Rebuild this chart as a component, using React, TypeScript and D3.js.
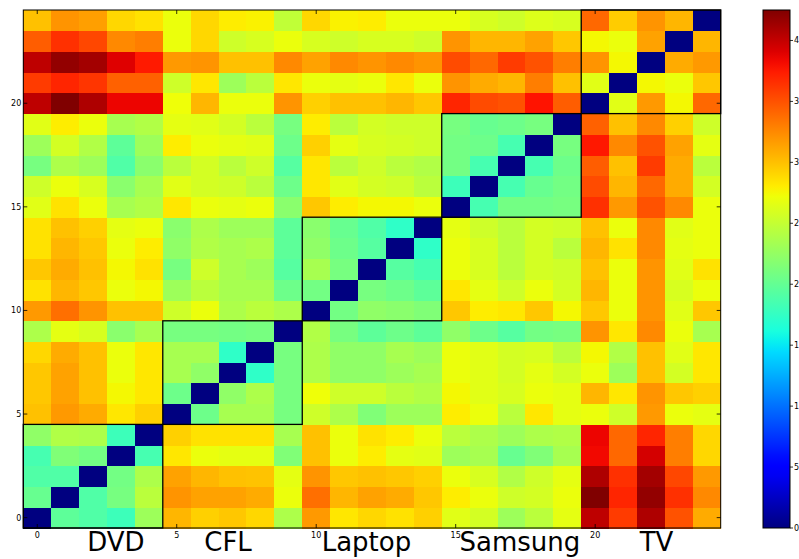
import React from 'react';
import * as d3 from 'd3';

// block names along both axes, 5 items each
const groups = ['DVD', 'CFL', 'Laptop', 'Samsung', 'TV'];
// where the big group labels sit (in cell units)
const groupLabelPos = [2.82, 6.84, 11.8, 17.3, 22.2];
const ticks = [0, 5, 10, 15, 20];
const cbarTicks = [0, 5, 10, 15, 20, 25, 30, 35, 40];
const vmax = 42.5;

// distance matrix, row 0 = bottom row of the image
const rows: number[][] = [
  [0, 19.7, 19, 18, 23, 30.5, 29.3, 29.7, 29, 23.8, 31.8, 28.3, 29, 28.5, 29.3, 26.5, 25.8, 23, 24.5, 26.7, 40.2, 36, 40.8, 35, 31],
  [20.2, 0, 19, 21, 24.5, 32, 31.4, 31.4, 31, 27, 33.7, 30.5, 31.4, 31, 29.7, 28, 27, 25.5, 25.8, 27, 42.5, 37, 41.8, 36.5, 32.5],
  [19, 19, 0, 20.8, 23.8, 31.4, 30.5, 30, 29.9, 26.7, 32, 29.7, 30, 29.7, 29.3, 27, 26, 24, 25.5, 26.7, 40.8, 36.5, 41.2, 35.5, 31.8],
  [18.5, 21.5, 20.8, 0, 18.5, 28.3, 27, 26.7, 26.7, 21.5, 30, 27, 28, 26.7, 26.5, 23, 23.5, 20.2, 21.5, 23.5, 38.3, 34, 39.4, 33, 29],
  [22.3, 24, 23.8, 18, 0, 29.3, 28.5, 28.5, 28.5, 23.5, 30, 27, 28.5, 28, 27, 24.5, 23.8, 23, 23.8, 24, 38.5, 34, 37, 33, 29],
  [30, 31.8, 31, 28.3, 29.3, 0, 20.5, 23.5, 23.5, 21, 25.5, 23.8, 21.5, 23, 23, 28, 27, 24.5, 28.3, 26.7, 27, 25.5, 31.8, 27, 26.7],
  [29.7, 31.4, 30, 27.5, 28.3, 20.5, 0, 22.3, 23.8, 21, 27.2, 25.5, 25.5, 24.5, 24, 27.5, 26.5, 26, 27, 26.7, 30.5, 28.3, 32, 29.7, 29.3],
  [29.7, 31.4, 30, 27, 28.3, 23.5, 22.3, 0, 17.3, 21, 23.8, 22.3, 22.3, 23, 23.5, 27, 26.5, 25.8, 26.7, 25.8, 27, 23, 30, 25.8, 28.3],
  [29, 31, 30, 27, 28.3, 23.5, 23.5, 17.3, 0, 21, 23.8, 22.3, 22.3, 23.5, 23, 27, 26.5, 25.8, 26, 24.5, 27.5, 24, 30, 26.5, 28.3],
  [23.8, 26.7, 26, 22, 23.5, 21, 21, 20.8, 21, 0, 24, 21, 19.7, 20.5, 19.7, 22.3, 20.5, 19.3, 20.8, 21, 32, 28.3, 32.5, 27, 23.5],
  [31.8, 33.7, 32, 30, 30, 25.5, 27, 23.8, 24.5, 23.8, 0, 20.8, 22.3, 22, 21.5, 29.7, 28, 28.3, 29.7, 27.5, 29.7, 27, 32, 26.5, 29.7],
  [28.5, 30.5, 29.7, 27, 27.5, 23, 24.5, 23.5, 23.5, 20.5, 20.8, 0, 21, 20.5, 19.7, 28.3, 26.7, 25.5, 27, 25.8, 30.5, 27, 32, 26, 27],
  [29.7, 31, 30, 27.5, 28.5, 21, 25.5, 23.5, 23, 19.3, 23.5, 21, 0, 19.3, 18.5, 27, 26, 24.5, 25.8, 25.5, 30, 27, 32, 26.5, 28.5],
  [28.5, 30.5, 29.7, 27, 28, 22.3, 24, 23.5, 23.8, 19.7, 22.3, 20.5, 19.3, 0, 17.3, 27, 26, 24.5, 25.8, 24.5, 30.5, 28.5, 32.5, 26.7, 27],
  [28.5, 30, 29.3, 26.7, 27, 22, 23.8, 23, 23, 19.7, 22, 20.2, 19, 17.3, 0, 26.7, 25.5, 24.5, 25.8, 25.5, 30, 27, 32.5, 26.5, 27],
  [26.5, 28.5, 27, 23.5, 24, 28.3, 27, 26.7, 27, 22, 29.7, 28, 27.5, 27.5, 27, 0, 18.5, 20.8, 20.8, 21, 36.5, 31.8, 35, 32.5, 27],
  [25.5, 27, 26, 22, 23.5, 26.5, 25.8, 25.5, 24.5, 20.5, 28.3, 26.5, 25.8, 25.5, 24.5, 18, 0, 18.5, 20.2, 20.8, 35.3, 30.5, 34, 31, 25.8],
  [21, 23.8, 23, 19, 22, 24.5, 25.8, 24.5, 25.5, 19.3, 28.3, 24.5, 25.5, 24.5, 24, 20.8, 18.5, 0, 18.5, 20.5, 34.5, 30, 36, 31, 24.5],
  [23, 25.8, 24, 19.7, 23, 28, 27, 26.7, 26.5, 20.5, 29.3, 26.7, 26, 25.8, 25.5, 20.8, 20.5, 18.5, 0, 21, 37.6, 32.5, 35, 31.4, 26.7],
  [26.5, 28, 27, 23.5, 24, 26.7, 26.5, 25.8, 24.5, 21, 28, 24.5, 25.8, 25.5, 25.5, 21, 20.2, 20.5, 21, 0, 34.3, 30, 32.5, 29.3, 25.5],
  [40.2, 42.5, 40.8, 38.5, 38.5, 27.2, 30.5, 27, 27, 32, 29.3, 30, 30, 30.5, 29.7, 37, 35.3, 35, 37.8, 34.5, 0, 26.5, 31.8, 27.5, 34],
  [36, 37, 36.3, 34.3, 34.3, 25.5, 28.3, 23, 24.5, 28.3, 27, 26.7, 27, 28.3, 27, 32, 31, 30.5, 33, 30, 26.5, 0, 27.5, 27, 29.7],
  [40.2, 41.8, 41.2, 39, 37.5, 31.8, 32, 30, 30, 32.5, 31.4, 32.5, 32, 32.5, 32, 35.3, 34, 36, 35, 33, 32, 27.5, 0, 31, 31.8],
  [34.5, 36.5, 35.5, 32.5, 33, 27, 29, 25.5, 26, 27, 26, 25.5, 26, 26, 25.5, 32, 30.5, 30.5, 31.4, 29.7, 27.5, 27, 31.4, 0, 30.5],
  [30, 32, 31.5, 29, 28.5, 27, 29, 28, 27.8, 24.8, 29, 27.8, 28, 27, 27, 27, 26, 25.5, 26.3, 26, 34, 29.5, 32, 30.5, 0],
];

const n = rows.length;
const width = 799;
const height = 559;
const plot = { left: 23.3, right: 720.7, top: 10, bottom: 528 };
const cbar = { left: 763, right: 790 };
const font = 'DejaVu Sans, sans-serif';

// matplotlib's jet, channel by channel
const chan = (pts: number[][]) =>
  d3.scaleLinear().domain(pts.map((p) => p[0])).range(pts.map((p) => p[1])).clamp(true);
const rCh = chan([[0, 0], [0.35, 0], [0.66, 1], [0.89, 1], [1, 0.5]]);
const gCh = chan([[0, 0], [0.125, 0], [0.375, 1], [0.64, 1], [0.91, 0], [1, 0]]);
const bCh = chan([[0, 0.5], [0.11, 1], [0.34, 1], [0.65, 0], [1, 0]]);
const jet = (t: number) =>
  d3.rgb(rCh(t) * 255, gCh(t) * 255, bCh(t) * 255).formatHex();

export default function App() {
  const x = d3.scaleLinear().domain([-0.5, n - 0.5]).range([plot.left, plot.right]);
  const y = d3.scaleLinear().domain([-0.5, n - 0.5]).range([plot.bottom, plot.top]);
  const color = (v: number) => jet(v / vmax);
  const cy = d3.scaleLinear().domain([0, vmax]).range([plot.bottom, plot.top]);
  const stops = d3.range(0, 1.0001, 0.02);

  return (
    <svg width={width} height={height} style={{ position: 'absolute', left: 0, top: 0, background: '#fff' }}>
      <defs>
        <linearGradient id="jet" x1="0" y1="1" x2="0" y2="0">
          {stops.map((s) => (
            <stop key={s} offset={s} stopColor={jet(s)} />
          ))}
        </linearGradient>
      </defs>

      {/* heatmap cells */}
      <g shapeRendering="crispEdges">
        {rows.map((row, i) =>
          row.map((v, j) => (
            <rect
              key={i + '-' + j}
              x={x(j - 0.5)}
              y={y(i + 0.5)}
              width={x(j + 0.5) - x(j - 0.5) + 0.5}
              height={y(i - 0.5) - y(i + 0.5) + 0.5}
              fill={color(v)}
            />
          ))
        )}
      </g>

      {/* group boxes */}
      {groups.map((g, k) => (
        <rect
          key={g}
          x={x(k * 5 - 0.5)}
          y={y(k * 5 + 4.5)}
          width={x(k * 5 + 4.5) - x(k * 5 - 0.5)}
          height={y(k * 5 - 0.5) - y(k * 5 + 4.5)}
          fill="none"
          stroke="#000"
          strokeWidth={1.3}
        />
      ))}

      {/* frame */}
      <rect x={plot.left} y={plot.top} width={plot.right - plot.left} height={plot.bottom - plot.top}
        fill="none" stroke="#000" strokeWidth={1} />

      {/* ticks on all sides, pointing in */}
      {ticks.map((t) => (
        <g key={t} stroke="#000" strokeWidth={0.8}>
          <line x1={x(t)} x2={x(t)} y1={plot.bottom} y2={plot.bottom - 4} />
          <line x1={x(t)} x2={x(t)} y1={plot.top} y2={plot.top + 4} />
          <line x1={plot.left} x2={plot.left + 4} y1={y(t)} y2={y(t)} />
          <line x1={plot.right} x2={plot.right - 4} y1={y(t)} y2={y(t)} />
        </g>
      ))}
      {ticks.map((t) => (
        <text key={'x' + t} x={x(t)} y={plot.bottom + 10} fontSize={8} fontFamily={font} textAnchor="middle">
          {t}
        </text>
      ))}
      {ticks.map((t) => (
        <text key={'y' + t} x={plot.left - 2} y={y(t) + 3} fontSize={8} fontFamily={font} textAnchor="end">
          {t}
        </text>
      ))}

      {/* big group labels */}
      {groups.map((g, k) => (
        <text key={'g' + g} x={x(groupLabelPos[k])} y={551} fontSize={26} fontFamily={font} textAnchor="middle">
          {g}
        </text>
      ))}

      {/* colorbar */}
      <rect x={cbar.left} y={cy(vmax)} width={cbar.right - cbar.left} height={cy(0) - cy(vmax)}
        fill="url(#jet)" stroke="#000" strokeWidth={1} />
      {cbarTicks.map((t) => (
        <g key={'c' + t}>
          <line x1={cbar.right} x2={cbar.right + 3} y1={cy(t)} y2={cy(t)} stroke="#000" strokeWidth={0.8} />
          <text x={cbar.right + 4} y={cy(t) + 3} fontSize={8} fontFamily={font}>
            {t}
          </text>
        </g>
      ))}
    </svg>
  );
}
